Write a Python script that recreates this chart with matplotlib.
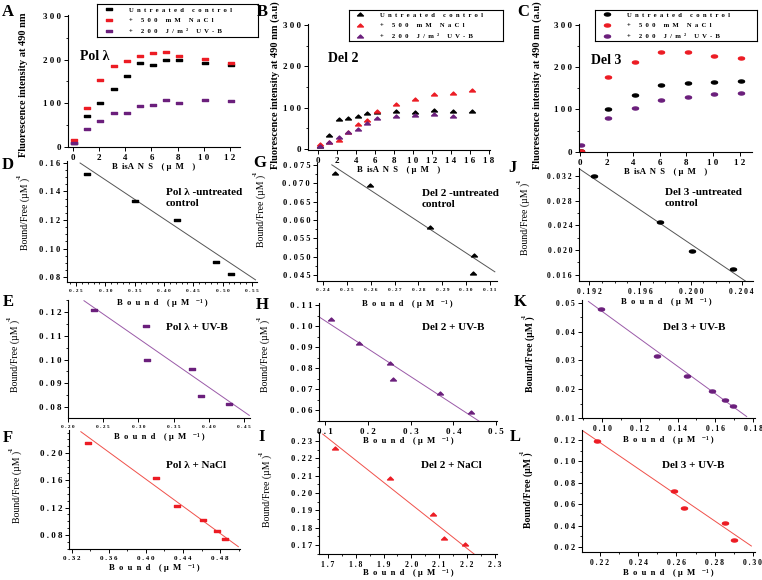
import matplotlib
matplotlib.use('Agg')
import matplotlib.pyplot as plt
from matplotlib.path import Path
from matplotlib.markers import MarkerStyle
from matplotlib.ticker import FixedLocator, FuncFormatter, MultipleLocator
import numpy as np

plt.rcParams['font.family'] = ['Liberation Serif', 'DejaVu Serif']
plt.rcParams['font.weight'] = 'bold'

W, H = 762, 580

# ---------------- data: titration (top row) ----------------
a_x = [0.1, 1.1, 2.1, 3.1, 4.1, 5.1, 6.1, 7.1, 8.1, 10.1, 12.1]
a_ctrl = [9, 71, 99, 132, 161, 192, 188, 200, 200, 192, 188]
a_nacl = [15, 88, 154, 186, 196, 208, 215, 218, 207, 201, 192]
a_uvb = [7, 40, 58, 76, 77, 93, 96, 107, 101, 108, 104]

b_x = [0.2, 1.2, 2.2, 3.2, 4.2, 5.2, 6.2, 8.2, 10.2, 12.2, 14.2, 16.2]
b_ctrl = [8, 35, 72, 76, 80, 86, 90, 92, 90, 94, 92, 92]
b_nacl = [11, 16, 23, 40, 60, 69, 92, 109, 122, 133, 135, 143]
b_uvb_x = [0.2, 1.2, 2.2, 3.2, 4.2, 5.2, 6.2, 8.2, 10.2, 12.2, 14.2]
b_uvb = [7, 17, 30, 40, 48, 62, 75, 81, 82, 84, 81]

c_x = [0.1, 2.1, 4.1, 6.1, 8.1, 10.1, 12.1]
c_ctrl = [2, 100, 135, 158, 163, 165, 167]
c_nacl = [1, 176, 212, 236, 236, 226, 222]
c_uvb = [16, 79, 104, 122, 129, 136, 140]

legend_labels = ["Untreated control", "+ 500 mM NaCl", "+ 200 J/m² UV-B"]

# ---------------- data: Scatchard plots ----------------
d_bound = [0.268, 0.351, 0.422, 0.489, 0.515]
d_ratio = [0.152, 0.133, 0.120, 0.0907, 0.0818]
d_fit_x = [0.257, 0.556]
d_fit_y = [0.160, 0.078]

g_bound = [0.245, 0.2597, 0.2848, 0.3033, 0.3030]
g_ratio = [0.0728, 0.0694, 0.0582, 0.0505, 0.0455]
g_fit_x = [0.2437, 0.312]
g_fit_y = [0.075, 0.0459]

j_bound = [0.1924, 0.19755, 0.2001, 0.2033]
j_ratio = [0.0320, 0.0245, 0.0199, 0.0170]
j_fit_x = [0.1912, 0.2043]
j_fit_y = [0.0332, 0.0150]

e_bound = [0.2369, 0.3108, 0.3126, 0.3766, 0.3885, 0.4291]
e_ratio = [0.1208, 0.1142, 0.0997, 0.0961, 0.0846, 0.0811]
e_fit_x = [0.2227, 0.4575]
e_fit_y = [0.1248, 0.0765]

h_bound = [0.114, 0.180, 0.252, 0.258, 0.369, 0.441]
h_ratio = [0.1032, 0.0920, 0.0825, 0.0749, 0.0679, 0.0589]
h_fit_x = [0.086, 0.4626]
h_fit_y = [0.1044, 0.0544]

k_bound = [0.0995, 0.1289, 0.1448, 0.158, 0.1652, 0.1695]
k_ratio = [0.0479, 0.0316, 0.0246, 0.0195, 0.0164, 0.0141]
k_fit_x = [0.0928, 0.1766]
k_fit_y = [0.0505, 0.0105]

f_bound = [0.3377, 0.4108, 0.434, 0.462, 0.4764, 0.4857]
f_ratio = [0.2151, 0.163, 0.1224, 0.1019, 0.0858, 0.0737]
f_fit_x = [0.3296, 0.4998]
f_fit_y = [0.2312, 0.0628]

i_bound = [1.725, 1.923, 2.079, 2.117, 2.193]
i_ratio = [0.2258, 0.2085, 0.1878, 0.1739, 0.1706]
i_fit_x = [1.681, 2.235]
i_fit_y = [0.234, 0.1636]

l_bound = [0.2183, 0.2589, 0.2641, 0.2854, 0.2901]
l_ratio = [0.1193, 0.0723, 0.0562, 0.0421, 0.0265]
l_fit_x = [0.2104, 0.2992]
l_fit_y = [0.1293, 0.0209]

# ---------------- styles ----------------
BLACK = '#000000'
RED = '#ec1c24'
PURPLE = '#6b1f7c'
LINE_PURPLE = '#9a5aa8'
LINE_RED = '#f0504a'
LINE_GREY = '#555555'

rect_m = MarkerStyle(Path([(-1, -0.45), (1, -0.45), (1, 0.45), (-1, 0.45), (-1, -0.45)],
                          [1, 2, 2, 2, 79]))
t = np.linspace(0, 2 * np.pi, 40)
ell_m = MarkerStyle(Path(np.column_stack([np.cos(t), 0.5 * np.sin(t)])))
tri_m = MarkerStyle(Path([(-1, -0.5), (1, -0.5), (0, 0.5), (-1, -0.5)], [1, 2, 2, 79]))

MS = {'rect': 4.6, 'tri': 4.2, 'ell': 4.4}

fig = plt.figure(figsize=(W / 100, H / 100), dpi=100)


def add_ax(l, t_, r, b):
    return fig.add_axes([l / W, 1 - b / H, (r - l) / W, (b - t_) / H])


def spaced(s, sep=' '):
    return sep.join(s)


def fmt(dec):
    return FuncFormatter(lambda v, p: spaced(f"{v:.{dec}f}"))


def style(ax, xlim, ylim, xt, yt, xdec, ydec, xfs, yfs, xminor=None, yminor=None):
    ax.set_xlim(*xlim)
    ax.set_ylim(*ylim)
    for s in ('top', 'right'):
        ax.spines[s].set_visible(False)
    for s in ('left', 'bottom'):
        ax.spines[s].set_linewidth(0.8)
    ax.xaxis.set_major_locator(FixedLocator(xt))
    ax.yaxis.set_major_locator(FixedLocator(yt))
    ax.xaxis.set_major_formatter(fmt(xdec))
    ax.yaxis.set_major_formatter(fmt(ydec))
    if xminor:
        ax.xaxis.set_minor_locator(MultipleLocator(xminor))
    if yminor:
        ax.yaxis.set_minor_locator(MultipleLocator(yminor))
    ax.tick_params(which='major', direction='out', length=3, width=0.7, pad=2)
    ax.tick_params(which='minor', direction='out', length=1.6, width=0.6)
    ax.tick_params(axis='x', labelsize=xfs)
    ax.tick_params(axis='y', labelsize=yfs)
    ax.patch.set_alpha(0)


def fig_text(x, y, s, **kw):
    fig.text(x / W, 1 - y / H, s, **kw)


# ---------------- top row ----------------
tops = [
    ('A', (68, 15, 240, 147), (-0.38, 12.77), (-1.1, 302.3), [0, 2, 4, 6, 8, 10, 12],
     [a_ctrl, a_nacl, a_uvb], [a_x, a_x, a_x], 'rect', "Pol λ", (80, 57), (97, 4), (161, 33)),
    ('B', (308, 24, 490, 150), (-1.05, 18.1), (-2.4, 302.4), list(range(0, 19, 2)),
     [b_ctrl, b_nacl, b_uvb], [b_x, b_x, b_uvb_x], 'tri', "Del 2", (328, 59), (349, 10), (154, 31)),
    ('C', (579, 24, 752, 152), (-0.075, 12.93), (-0.7, 302.4), [0, 2, 4, 6, 8, 10, 12],
     [c_ctrl, c_nacl, c_uvb], [c_x, c_x, c_x], 'ell', "Del 3", (591, 61), (595, 10), (162, 31)),
]
mk_of = {'rect': rect_m, 'tri': tri_m, 'ell': ell_m}
for letter, box, xl, yl, xt, ys, xs, mkey, title, tpos, lpos, lsize in tops:
    ax = add_ax(*box)
    hs = []
    for yv, xv, col in zip(ys, xs, [BLACK, RED, PURPLE]):
        h, = ax.plot(xv, yv, linestyle='none', marker=mk_of[mkey], ms=MS[mkey], color=col, mec=col)
        hs.append(h)
    style(ax, xl, yl, xt, [0, 100, 200, 300], 0, 0, 6.5, 6.5, yminor=50)
    ax.text((tpos[0] - box[0]) / (box[2] - box[0]), 1 - (tpos[1] - box[1]) / (box[3] - box[1]),
            title, transform=ax.transAxes, fontsize=10, ha='left', va='center')
    # legend box
    lax = fig.add_axes([lpos[0] / W, 1 - (lpos[1] + lsize[1]) / H, lsize[0] / W, lsize[1] / H])
    lax.set_xticks([])
    lax.set_yticks([])
    for s in lax.spines.values():
        s.set_linewidth(0.8)
    leg = lax.legend(hs, [spaced(s, '  ') for s in legend_labels], loc='center left',
                     bbox_to_anchor=(0.04, 0.5), fontsize=4.8, frameon=False,
                     labelspacing=0.75, handlelength=1.6, handletextpad=2.2,
                     borderaxespad=0, borderpad=0)
    fig_text(box[0] + (box[2] - box[0]) / 2, box[3] + 20, "B  isA  N  S    ( µ  M    )",
             fontsize=6.2, ha='center', va='center')

fig_text(24, 85, "Fluorescence intensity at 490 nm", rotation=90, fontsize=7.5, ha='center', va='center')
fig_text(275, 85, "Fluorescence intensity at 490 nm (a.u)", rotation=90, fontsize=7.5, ha='center', va='center')
fig_text(537, 85, "Fluorescence intensity at 490 nm (a.u)", rotation=90, fontsize=7.5, ha='center', va='center')

# ---------------- Scatchard panels ----------------
bound_lbl = "B  o  u  n  d    ( µ  M   ⁻¹ )"
panels = [
    ('D', (67, 161, 257, 282), (0.2347, 0.5585), (0.0765, 0.1614), [0.25, 0.30, 0.35, 0.40, 0.45, 0.50, 0.55],
     [0.08, 0.10, 0.12, 0.14, 0.16], 2, 2, 3.8, 6, (d_bound, d_ratio, d_fit_x, d_fit_y), 'rect', BLACK, LINE_GREY,
     "Pol λ -untreated\ncontrol", (166, 188), (25, 214), False, 303, 0.01, 0.005),
    ('G', (317, 163, 497, 281), (0.2375, 0.3129), (0.0434, 0.0755), [0.24, 0.25, 0.26, 0.27, 0.28, 0.29, 0.30, 0.31],
     [0.045, 0.050, 0.055, 0.060, 0.065, 0.070, 0.075], 2, 3, 3.8, 6, (g_bound, g_ratio, g_fit_x, g_fit_y), 'tri', BLACK, LINE_GREY,
     "Del 2 -untreated\ncontrol", (422, 189), (261, 211), False, 304, None, 0.0025),
    ('J', (579, 168, 753, 281), (0.1912, 0.2049), (0.0150, 0.0333), [0.192, 0.196, 0.200, 0.204],
     [0.016, 0.020, 0.024, 0.028, 0.032], 3, 3, 5.5, 5.5, (j_bound, j_ratio, j_fit_x, j_fit_y), 'ell', BLACK, LINE_GREY,
     "Del 3 -untreated\ncontrol", (665, 188), (525, 219), False, 302, 0.001, 0.002),
    ('E', (68, 300, 250, 418), (0.20, 0.4585), (0.0754, 0.1251), [0.20, 0.25, 0.30, 0.35, 0.40, 0.45],
     [0.08, 0.09, 0.10, 0.11, 0.12], 2, 2, 3.8, 6.5, (e_bound, e_ratio, e_fit_x, e_fit_y), 'rect', PURPLE, LINE_PURPLE,
     "Pol λ + UV-B", (166, 327), (15, 356), False, 437, None, 0.005),
    ('H', (319, 303, 497, 421), (0.086, 0.502), (0.0548, 0.111), [0.1, 0.2, 0.3, 0.4, 0.5],
     [0.06, 0.07, 0.08, 0.09, 0.10, 0.11], 1, 2, 6.5, 6.5, (h_bound, h_ratio, h_fit_x, h_fit_y), 'tri', PURPLE, LINE_PURPLE,
     "Del 2 + UV-B", (422, 327), (265, 356), False, 441, None, 0.005),
    ('K', (582, 300, 755, 418), (0.0894, 0.181), (0.01, 0.051), [0.10, 0.12, 0.14, 0.16, 0.18],
     [0.01, 0.02, 0.03, 0.04, 0.05], 2, 2, 5.5, 5.5, (k_bound, k_ratio, k_fit_x, k_fit_y), 'ell', PURPLE, LINE_PURPLE,
     "Del 3 + UV-B", (663, 327), (530, 354), True, 440, 0.01, 0.005),
    ('F', (69, 430, 240, 549), (0.3168, 0.5016), (0.0594, 0.2337), [0.32, 0.36, 0.40, 0.44, 0.48],
     [0.08, 0.12, 0.16, 0.20], 2, 2, 5, 6.5, (f_bound, f_ratio, f_fit_x, f_fit_y), 'rect', RED, LINE_RED,
     "Pol λ + NaCl", (166, 465), (17, 487), False, 568, 0.02, 0.01),
    ('I', (319, 432, 497, 554), (1.6676, 2.308), (0.1648, 0.2352), [1.7, 1.8, 1.9, 2.0, 2.1, 2.2, 2.3],
     [0.17, 0.18, 0.19, 0.20, 0.21, 0.22, 0.23], 1, 2, 5.5, 6, (i_bound, i_ratio, i_fit_x, i_fit_y), 'tri', RED, LINE_RED,
     "Del 2 + NaCl", (421, 466), (267, 491), False, 573, 0.05, 0.005),
    ('L', (582, 430, 755, 552), (0.2106, 0.3011), (0.0153, 0.1293), [0.22, 0.24, 0.26, 0.28, 0.30],
     [0.02, 0.04, 0.06, 0.08, 0.10, 0.12], 2, 2, 5.5, 6, (l_bound, l_ratio, l_fit_x, l_fit_y), 'ell', RED, LINE_RED,
     "Del 3 + UV-B", (662, 466), (528, 490), True, 573, 0.01, 0.01),
]
for (letter, box, xl, yl, xt, yt, xdec, ydec, xfs, yfs, data, mkey, col, lcol, title, tpos,
     ypos, ybold, xly, xmin, ymin) in panels:
    ax = add_ax(*box)
    bx, by, fx, fy = data
    ax.plot(fx, fy, color=lcol, lw=0.7)
    ax.plot(bx, by, linestyle='none', marker=mk_of[mkey], ms=MS[mkey], color=col, mec=col)
    style(ax, xl, yl, xt, yt, xdec, ydec, xfs, yfs, xminor=xmin, yminor=ymin)
    ax.text((tpos[0] - box[0]) / (box[2] - box[0]), 1 - (tpos[1] - box[1]) / (box[3] - box[1]),
            title, transform=ax.transAxes, fontsize=8, ha='left', va='top' if '\n' in title else 'center',
            linespacing=1.3)
    fig_text(ypos[0], ypos[1], "Bound/Free (µM )", rotation=90, fontsize=7,
             fontweight='bold' if ybold else 'normal', ha='center', va='center')
    fig_text(ypos[0] - 6, ypos[1] - 38, "-1", rotation=90, fontsize=4.5, ha='center', va='center')
    fig_text(box[0] + (box[2] - box[0]) / 2, xly, bound_lbl, fontsize=6.2, ha='center', va='center')

letters = [('A', 8, 12), ('B', 262, 12), ('C', 523, 12), ('D', 8, 165), ('G', 260, 163),
           ('J', 512, 168), ('E', 8, 302), ('H', 262, 305), ('K', 520, 302), ('F', 8, 438),
           ('I', 262, 437), ('L', 515, 437)]
for s, x, y in letters:
    fig_text(x, y, s, fontsize=12, ha='center', va='center')

fig.savefig('out.png', dpi=100)
